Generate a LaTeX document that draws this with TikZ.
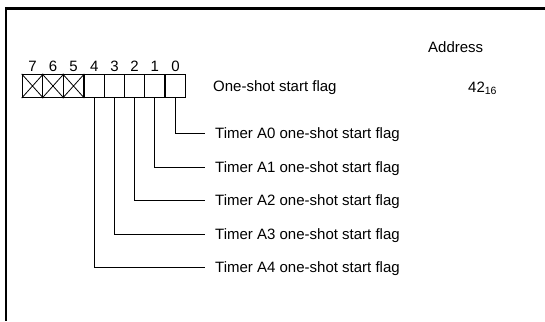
\documentclass[tikz,border=0pt]{standalone}
\usepackage{fontspec}
\setmainfont{Liberation Sans}
\begin{document}
\begin{tikzpicture}[x=1pt,y=-1pt,
  cell/.style={draw,line width=1.1pt,minimum width=20.5pt,minimum height=23pt,inner sep=0pt},
  bitnum/.style={inner sep=0pt,font=\fontsize{15}{18}\selectfont},
  lbl/.style={inner sep=0pt,anchor=west,text height=10.5pt,text depth=0pt,font=\fontsize{15}{18}\selectfont},
  leader/.style={line width=0.8pt}]
\useasboundingbox (0,0) rectangle (545,321);
\draw[line width=2.6pt] (545,8.5) -- (6,8.5) -- (6,321);
% register cells
\foreach \i/\x in {7/32.5,6/53,5/73.5,4/94.3,3/114.5,2/134.5,1/154.7,0/175.5}{
  \node[cell] (b\i) at (\x,86) {};
  \node[bitnum] (n\i) at (\x,66) {\i};
}
\foreach \i in {7,6,5}{
  \draw[line width=0.8pt] (b\i.north west) -- (b\i.south east) (b\i.south west) -- (b\i.north east);
}
% labels
\node[lbl] (title) at (213,86) {One-shot start flag};
\node[lbl] (addr) at (428,47) {Address};
\node[lbl] (val) at (468,87) {42\raisebox{-0.3ex}{\fontsize{10.5}{12}\selectfont 16}};
\node[lbl] (t0) at (215,133) {Timer A0 one-shot start flag};
\node[lbl] (t1) at (215,167) {Timer A1 one-shot start flag};
\node[lbl] (t2) at (215,200.5) {Timer A2 one-shot start flag};
\node[lbl] (t3) at (215,234) {Timer A3 one-shot start flag};
\node[lbl] (t4) at (215,267) {Timer A4 one-shot start flag};
\foreach \i in {0,...,4}{
  \draw[leader] (b\i.south) |- ([xshift=-10pt]t\i.west);
}
\end{tikzpicture}
\end{document}
